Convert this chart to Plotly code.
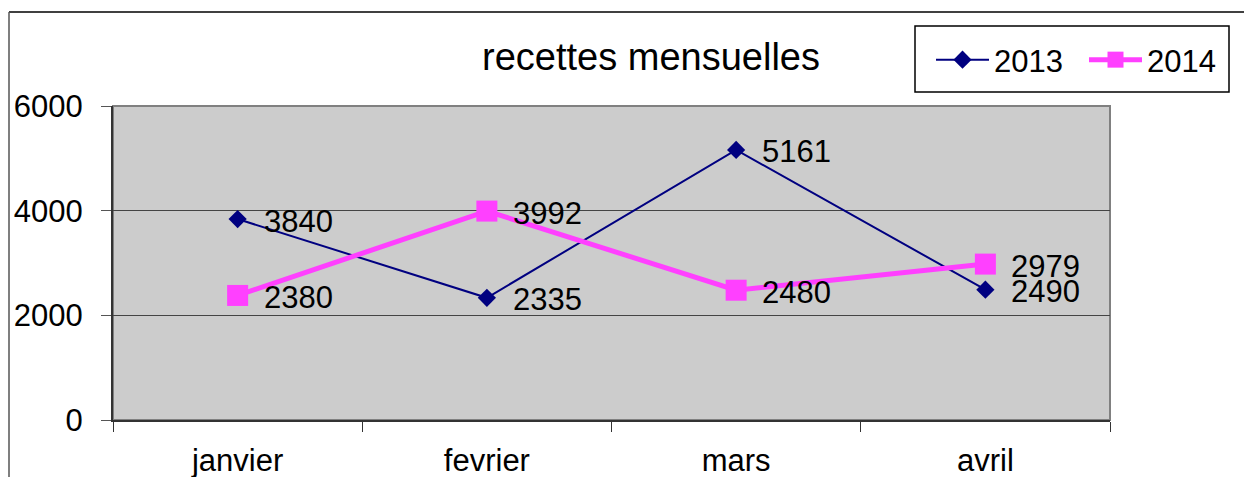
import plotly.graph_objects as go

categories = ["janvier", "fevrier", "mars", "avril"]
values_2013 = [3840, 2335, 5161, 2490]
values_2014 = [2380, 3992, 2480, 2979]
y_ticks = [0, 2000, 4000, 6000]

# page body has an 8px margin; work in figure coordinates
O = 8
W, H = 1252 - O, 477 - O
L, R, T, B = 113 - O, 1110 - O, 106 - O, 420 - O
FONT = "Liberation Sans, Arial, sans-serif"
FS = 31

def px(x):
    return (x - O - L) / (R - L)

def py(y):
    return (B - (y - O)) / (B - T)

fig = go.Figure()
fig.add_trace(go.Scatter(
    x=categories, y=values_2013, name="2013", mode="lines+markers",
    line=dict(color="#000080", width=2),
    marker=dict(symbol="diamond", size=14, color="#000080"),
))
fig.add_trace(go.Scatter(
    x=categories, y=values_2014, name="2014", mode="lines+markers",
    line=dict(color="#FF40FF", width=5),
    marker=dict(symbol="square", size=21, color="#FF40FF"),
))

annotations = []
for vals in (values_2013, values_2014):
    for c, v in zip(categories, vals):
        annotations.append(dict(
            x=c, y=v, xref="x", yref="y", text=str(v), showarrow=False,
            xanchor="left", yanchor="middle", xshift=24, yshift=-2,
            font=dict(family=FONT, size=FS, color="black"),
        ))

fig.update_layout(
    width=W, height=H,
    margin=dict(l=L, r=W - R, t=T, b=H - B, pad=0, autoexpand=False),
    paper_bgcolor="white", plot_bgcolor="#CCCCCC",
    font=dict(family=FONT, size=FS, color="black"),
    title=dict(text="recettes mensuelles", xref="container", x=(651 - O) / W,
               xanchor="center", y=1 - (57 - O) / H, yanchor="middle",
               font=dict(family=FONT, size=38, color="black")),
    showlegend=True,
    legend=dict(orientation="h", x=px(931), y=py(60), xanchor="left", yanchor="middle",
                bgcolor="rgba(0,0,0,0)", borderwidth=0,
                font=dict(family=FONT, size=FS, color="black"),
                itemwidth=53, entrywidth=85, entrywidthmode="pixels",
                tracegroupgap=0),
    annotations=annotations,
    shapes=[
        dict(type="rect", xref="paper", yref="paper", x0=0, x1=1, y0=0, y1=1,
             line=dict(color="#808080", width=2), layer="below"),
        dict(type="line", xref="paper", yref="paper", x0=px(9), x1=px(1260),
             y0=py(12), y1=py(12), line=dict(color="black", width=1.5)),
        dict(type="line", xref="paper", yref="paper", x0=px(9), x1=px(9),
             y0=py(12), y1=py(490), line=dict(color="#555555", width=1.5)),
        dict(type="rect", xref="paper", yref="paper", x0=px(915), x1=px(1229),
             y0=py(92), y1=py(26), fillcolor="white",
             line=dict(color="black", width=1.5), layer="above"),
    ],
)
fig.update_xaxes(
    type="category", range=[-0.5, 3.5], tickson="boundaries",
    ticks="outside", ticklen=10, tickcolor="#333333", tickwidth=1,
    ticklabelstandoff=12,
    showline=True, linecolor="#333333", linewidth=2,
    showgrid=False, zeroline=False,
    tickfont=dict(family=FONT, size=FS, color="black"),
)
fig.update_yaxes(
    range=[0, 6000], tickvals=y_ticks, ticks="outside", ticklen=10,
    tickcolor="#555555", ticklabelstandoff=12,
    showline=True, linecolor="#333333", linewidth=2,
    showgrid=True, gridcolor="#444444", gridwidth=1, zeroline=False,
    tickfont=dict(family=FONT, size=FS, color="black"),
)

fig.write_html("out.html")
